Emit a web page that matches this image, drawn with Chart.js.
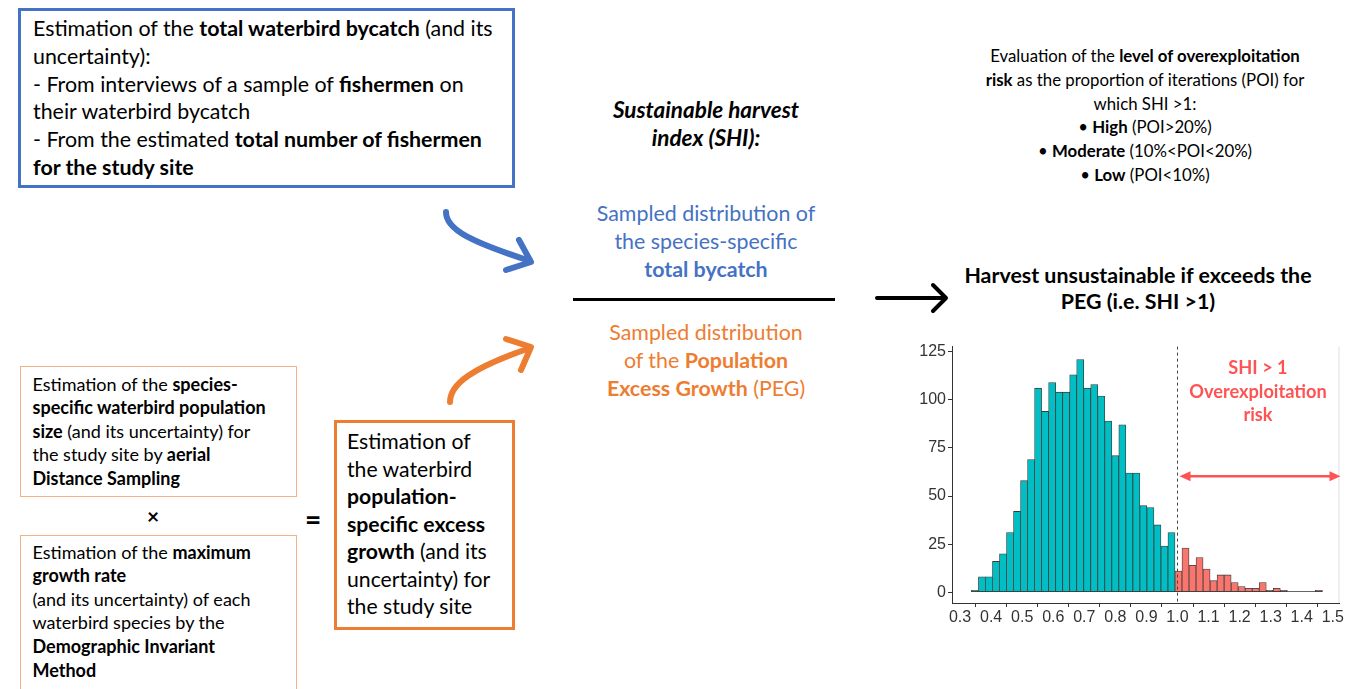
<!DOCTYPE html>
<html>
<head>
<meta charset="utf-8">
<script src="https://cdn.jsdelivr.net/npm/chart.js@4.4.1/dist/chart.umd.min.js"></script>
<style>
  html, body { margin: 0; padding: 0; background: #fff; }
  body { width: 1348px; height: 689px; position: relative; overflow: hidden; font-family: Lato, "Open Sans", sans-serif; color: #000; }
  .abs { position: absolute; white-space: nowrap; }
  .box { position: absolute; box-sizing: border-box; white-space: nowrap; }
  .c { text-align: center; }
  b { font-weight: 700; }
  #histWrap { position: absolute; left: 900px; top: 335px; width: 445px; height: 300px; }
</style>
</head>
<body>

<!-- bycatch box -->
<div class="box" style="left:18px;top:8px;width:497px;height:180px;border:3px solid #4472C4;padding:4px 0 0 12px;font-size:21.4px;line-height:27.8px;">
Estimation of the <b>total waterbird bycatch</b> (and its<br>
uncertainty):<br>
- From interviews of a sample of <b>fishermen</b> on<br>
their waterbird bycatch<br>
- From the estimated <b>total number of fishermen</b><br>
<b>for the study site</b>
</div>

<!-- population size box -->
<div class="box" style="left:20px;top:366px;width:277px;height:131px;border:1.5px solid #F4B183;padding:5.7px 0 0 11.5px;font-size:18px;line-height:23.5px;">
Estimation of the <b>species-</b><br>
<b>specific waterbird population</b><br>
<b>size</b> (and its uncertainty) for<br>
the study site by <b>aerial</b><br>
<b>Distance Sampling</b>
</div>
<div class="abs" style="left:147px;top:503px;font-size:21px;font-weight:700;">×</div>

<!-- growth rate box -->
<div class="box" style="left:20px;top:535px;width:277px;height:200px;border:1.5px solid #F4B183;padding:4.7px 0 0 11.5px;font-size:18px;line-height:23.6px;">
Estimation of the <b>maximum</b><br>
<b>growth rate</b><br>
(and its uncertainty) of each<br>
waterbird species by the<br>
<b>Demographic Invariant</b><br>
<b>Method</b>
</div>
<div class="abs" style="left:305px;top:502px;font-size:28px;font-weight:700;">=</div>

<!-- excess growth box -->
<div class="box" style="left:334px;top:420px;width:181px;height:210px;border:3px solid #ED7D31;padding:5.2px 0 0 10px;font-size:21.2px;line-height:27.5px;">
Estimation of<br>
the waterbird<br>
<b>population-</b><br>
<b>specific excess</b><br>
<b>growth</b> (and its<br>
uncertainty) for<br>
the study site
</div>

<!-- SHI formula -->
<div class="abs c" style="left:556px;width:300px;top:96px;font-size:22.5px;line-height:28px;font-weight:700;font-style:italic;">
Sustainable harvest<br>index (SHI):
</div>
<div class="abs c" style="left:556px;width:300px;top:199px;font-size:21.4px;line-height:28px;color:#4472C4;">
Sampled distribution of<br>the species-specific<br><b>total bycatch</b>
</div>
<div class="abs" style="left:573px;top:298px;width:262px;height:3px;background:#000;"></div>
<div class="abs c" style="left:556px;width:300px;top:318px;font-size:21.4px;line-height:28px;color:#ED7D31;">
Sampled distribution<br>of the <b>Population</b><br><b>Excess Growth</b> (PEG)
</div>

<!-- POI text -->
<div class="abs c" style="left:945px;width:400px;top:44px;font-size:16.8px;line-height:23.8px;">
Evaluation of the <b>level of overexploitation</b><br>
<b>risk</b> as the proportion of iterations (POI) for<br>
which SHI &gt;1:<br>
• <b>High</b> (POI&gt;20%)<br>
• <b>Moderate</b> (10%&lt;POI&lt;20%)<br>
• <b>Low</b> (POI&lt;10%)
</div>

<div class="abs c" style="left:938px;width:400px;top:262px;font-size:21.4px;line-height:26px;font-weight:700;">
Harvest unsustainable if exceeds the<br>PEG (i.e. SHI &gt;1)
</div>

<svg class="abs" style="left:0;top:0;" width="1348" height="689">
  <g fill="none" stroke-linecap="round" stroke-linejoin="round">
    <path d="M446,212 C446,230 472,242 530,261" stroke="#4472C4" stroke-width="6"/>
    <path d="M519,240 L531,262 L506,270" stroke="#4472C4" stroke-width="6"/>
    <path d="M450,402 C450,384 472,368 530,348" stroke="#ED7D31" stroke-width="6"/>
    <path d="M506,339 L531,347 L521,370" stroke="#ED7D31" stroke-width="6"/>
    <path d="M877,298 L944,298" stroke="#000" stroke-width="4"/>
    <path d="M933,285 L946,298 L933,311" stroke="#000" stroke-width="4"/>
  </g>
</svg>

<div id="histWrap"><canvas id="hist"></canvas></div>
<div class="abs c" style="left:1158px;width:200px;top:356px;font-size:18.2px;line-height:23.5px;font-weight:700;color:#FF5252;">
SHI &gt; 1<br>Overexploitation<br>risk
</div>

<script>
// histogram of SHI iterations (bin centres / counts)
const binCentres = [0.3478, 0.3704, 0.3930, 0.4156, 0.4382, 0.4608, 0.4834, 0.5060, 0.5286, 0.5512,
  0.5738, 0.5964, 0.6190, 0.6416, 0.6642, 0.6868, 0.7094, 0.7320, 0.7546, 0.7772,
  0.7998, 0.8224, 0.8450, 0.8676, 0.8902, 0.9128, 0.9354, 0.9580, 0.9806, 1.0032,
  1.0258, 1.0484, 1.0710, 1.0936, 1.1162, 1.1388, 1.1614, 1.1840, 1.2066, 1.2292,
  1.2518, 1.2744, 1.2970, 1.3196, 1.3422, 1.3648, 1.3874, 1.4100, 1.4326, 1.4552];
const binCounts = [1, 8, 8, 16, 20, 31, 42, 58, 69, 106,
  94, 109, 104, 104, 113, 121, 106, 108, 102, 89,
  71, 87, 62, 62, 45, 44, 35, 24, 31, 11,
  23, 14, 18, 12, 6, 9, 9, 5, 3, 2,
  2, 5, 1, 2, 1, 0, 0, 0, 0, 1];
const xTicks = [0.3, 0.4, 0.5, 0.6, 0.7, 0.8, 0.9, 1.0, 1.1, 1.2, 1.3, 1.4, 1.5];
const yTicks = [0, 25, 50, 75, 100, 125];
const SHI_LIMIT = 1.0;
const ARROW_Y = 60.3;

const TEAL = '#00BFC4', SALMON = '#F8766D', RISK = '#FF5252', AXIS = '#333';

const overlay = {
  id: 'overlay',
  afterDatasetsDraw(chart) {
    const { ctx, chartArea: a, scales: { x, y } } = chart;
    const bars = chart.getDatasetMeta(0).data;
    ctx.save();
    // empty bins still show as a line on the baseline
    const y0 = Math.round(y.getPixelForValue(0)) - 0.5;
    ctx.strokeStyle = '#3c3c3c'; ctx.lineWidth = 0.8;
    ctx.beginPath();
    ctx.moveTo(bars[0].x - bars[0].width / 2, y0);
    ctx.lineTo(bars[bars.length - 1].x + bars[bars.length - 1].width / 2, y0);
    ctx.stroke();
    // faint panel edge on the right
    ctx.strokeStyle = '#e0e0e0'; ctx.lineWidth = 1;
    ctx.beginPath(); ctx.moveTo(a.right - 0.5, a.top); ctx.lineTo(a.right - 0.5, a.bottom); ctx.stroke();
    // SHI = 1 threshold
    const xl = Math.round(x.getPixelForValue(SHI_LIMIT)) + 0.5;
    ctx.strokeStyle = '#444'; ctx.setLineDash([3, 3]);
    ctx.beginPath(); ctx.moveTo(xl, a.top); ctx.lineTo(xl, a.bottom); ctx.stroke();
    ctx.setLineDash([]);
    // double arrow over the risk zone
    const ya = y.getPixelForValue(ARROW_Y), x0 = xl + 2, x1 = a.right + 1;
    ctx.strokeStyle = RISK; ctx.fillStyle = RISK; ctx.lineWidth = 2.5;
    ctx.beginPath(); ctx.moveTo(x0 + 8, ya); ctx.lineTo(x1 - 8, ya); ctx.stroke();
    ctx.beginPath(); ctx.moveTo(x0, ya); ctx.lineTo(x0 + 11, ya - 5); ctx.lineTo(x0 + 11, ya + 5); ctx.closePath(); ctx.fill();
    ctx.beginPath(); ctx.moveTo(x1, ya); ctx.lineTo(x1 - 11, ya - 5); ctx.lineTo(x1 - 11, ya + 5); ctx.closePath(); ctx.fill();
    ctx.restore();
  }
};

const tickFont = { family: '"Liberation Sans", Arial, sans-serif', size: 16 };

new Chart(document.getElementById('hist'), {
  type: 'bar',
  data: {
    datasets: [{
      data: binCentres.map((c, i) => ({ x: c, y: binCounts[i] })),
      backgroundColor: ctx => binCentres[ctx.dataIndex] < SHI_LIMIT ? TEAL : SALMON,
      borderColor: '#3c3c3c',
      borderWidth: 0.8,
      borderSkipped: false,
      barPercentage: 1,
      categoryPercentage: 1
    }]
  },
  options: {
    responsive: true, maintainAspectRatio: false, animation: false,
    layout: { padding: { top: 8, right: 5, left: 0, bottom: 0 } },
    plugins: { legend: { display: false }, tooltip: { enabled: false } },
    scales: {
      x: {
        type: 'linear', min: 0.274, max: 1.5215, offset: false,
        afterBuildTicks: s => { s.ticks = xTicks.map(v => ({ value: v })); },
        afterFit: s => { s.height = 32; },
        ticks: { callback: v => v.toFixed(1), color: '#333', font: tickFont, padding: 1, maxRotation: 0, autoSkip: false },
        grid: { drawOnChartArea: false, drawTicks: true, tickLength: 4, color: AXIS },
        border: { color: AXIS, width: 1 }
      },
      y: {
        min: -5.6, max: 127.7,
        afterBuildTicks: s => { s.ticks = yTicks.map(v => ({ value: v })); },
        afterFit: s => { s.width = 52; },
        ticks: { color: '#333', font: tickFont, padding: 2 },
        grid: { drawOnChartArea: false, drawTicks: true, tickLength: 4, color: AXIS },
        border: { color: AXIS, width: 1 }
      }
    }
  },
  plugins: [overlay]
});
</script>
</body>
</html>
